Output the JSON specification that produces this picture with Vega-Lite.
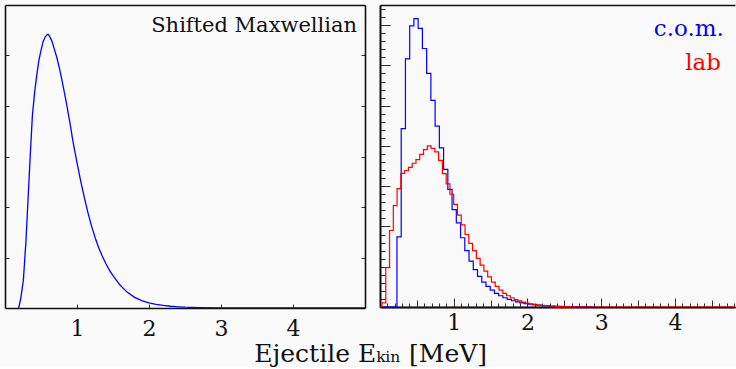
{
  "$schema": "https://vega.github.io/schema/vega-lite/v6.json",
  "background": "#fafafa",
  "padding": {"left": 4, "top": 5, "right": 0, "bottom": 0},
  "datasets": {
    "maxw": [
      {"E": 0.19, "f": 0}, {"E": 0.22, "f": 0.2}, {"E": 0.255, "f": 0.55}, {"E": 0.29, "f": 1.3},
      {"E": 0.32, "f": 2.15}, {"E": 0.35, "f": 3.0}, {"E": 0.38, "f": 3.8}, {"E": 0.41, "f": 4.25},
      {"E": 0.44, "f": 4.6}, {"E": 0.47, "f": 4.9}, {"E": 0.5, "f": 5.1}, {"E": 0.53, "f": 5.28},
      {"E": 0.56, "f": 5.37}, {"E": 0.59, "f": 5.42}, {"E": 0.6, "f": 5.42}, {"E": 0.62, "f": 5.38},
      {"E": 0.65, "f": 5.29}, {"E": 0.68, "f": 5.15}, {"E": 0.72, "f": 4.96}, {"E": 0.76, "f": 4.72},
      {"E": 0.8, "f": 4.45}, {"E": 0.85, "f": 4.08}, {"E": 0.9, "f": 3.68}, {"E": 0.95, "f": 3.25},
      {"E": 1.0, "f": 2.88}, {"E": 1.05, "f": 2.52}, {"E": 1.1, "f": 2.2}, {"E": 1.15, "f": 1.9},
      {"E": 1.2, "f": 1.63}, {"E": 1.25, "f": 1.4}, {"E": 1.3, "f": 1.2}, {"E": 1.35, "f": 1.03},
      {"E": 1.4, "f": 0.88}, {"E": 1.45, "f": 0.75}, {"E": 1.5, "f": 0.64}, {"E": 1.6, "f": 0.45},
      {"E": 1.7, "f": 0.31}, {"E": 1.8, "f": 0.21}, {"E": 1.9, "f": 0.145}, {"E": 2.0, "f": 0.1},
      {"E": 2.1, "f": 0.07}, {"E": 2.2, "f": 0.05}, {"E": 2.3, "f": 0.035}, {"E": 2.4, "f": 0.024},
      {"E": 2.5, "f": 0.016}, {"E": 2.7, "f": 0.007}, {"E": 3.0, "f": 0.002}, {"E": 3.5, "f": 0},
      {"E": 4.0, "f": 0}, {"E": 4.5, "f": 0}, {"E": 5.0, "f": 0}
    ],
    "com": [
      {"lo": 0, "count": 0}, {"lo": 0.0575, "count": 0}, {"lo": 0.115, "count": 0}, {"lo": 0.1725, "count": 0},
      {"lo": 0.23, "count": 1.74}, {"lo": 0.2875, "count": 4.43}, {"lo": 0.345, "count": 6.16}, {"lo": 0.4025, "count": 6.98},
      {"lo": 0.46, "count": 7.16}, {"lo": 0.5175, "count": 6.92}, {"lo": 0.575, "count": 6.42}, {"lo": 0.6325, "count": 5.8},
      {"lo": 0.69, "count": 5.13}, {"lo": 0.7475, "count": 4.49}, {"lo": 0.805, "count": 3.95}, {"lo": 0.8625, "count": 3.42},
      {"lo": 0.92, "count": 2.92}, {"lo": 0.9775, "count": 2.42}, {"lo": 1.035, "count": 2.09}, {"lo": 1.0925, "count": 1.72},
      {"lo": 1.15, "count": 1.4}, {"lo": 1.2075, "count": 1.14}, {"lo": 1.265, "count": 0.93}, {"lo": 1.3225, "count": 0.76},
      {"lo": 1.38, "count": 0.62}, {"lo": 1.4375, "count": 0.51}, {"lo": 1.495, "count": 0.42}, {"lo": 1.5525, "count": 0.34},
      {"lo": 1.61, "count": 0.28}, {"lo": 1.6675, "count": 0.23}, {"lo": 1.725, "count": 0.19}, {"lo": 1.7825, "count": 0.155},
      {"lo": 1.84, "count": 0.126}, {"lo": 1.8975, "count": 0.103}, {"lo": 1.955, "count": 0.084}, {"lo": 2.0125, "count": 0.068},
      {"lo": 2.07, "count": 0.055}, {"lo": 2.1275, "count": 0.045}, {"lo": 2.185, "count": 0.036}, {"lo": 2.2425, "count": 0.029},
      {"lo": 2.3, "count": 0.023}, {"lo": 2.3575, "count": 0.018}, {"lo": 2.415, "count": 0.014}, {"lo": 2.4725, "count": 0.011},
      {"lo": 2.53, "count": 0.008}, {"lo": 2.5875, "count": 0.006}, {"lo": 2.645, "count": 0.004}, {"lo": 2.7025, "count": 0.003},
      {"lo": 2.76, "count": 0.002}, {"lo": 2.8175, "count": 0.001}, {"lo": 2.875, "count": 0}
    ],
    "lab": [
      {"lo": 0, "count": 0}, {"lo": 0.027, "count": 0.1}, {"lo": 0.0782, "count": 0.975}, {"lo": 0.1294, "count": 1.9},
      {"lo": 0.1806, "count": 2.52}, {"lo": 0.2318, "count": 2.94}, {"lo": 0.283, "count": 3.32}, {"lo": 0.3342, "count": 3.39},
      {"lo": 0.3854, "count": 3.47}, {"lo": 0.4366, "count": 3.57}, {"lo": 0.4878, "count": 3.66}, {"lo": 0.539, "count": 3.79},
      {"lo": 0.5902, "count": 3.91}, {"lo": 0.6414, "count": 4.0}, {"lo": 0.6926, "count": 3.94}, {"lo": 0.7438, "count": 3.85},
      {"lo": 0.795, "count": 3.64}, {"lo": 0.8462, "count": 3.31}, {"lo": 0.8974, "count": 3.06}, {"lo": 0.9486, "count": 2.8},
      {"lo": 0.9998, "count": 2.55}, {"lo": 1.051, "count": 2.28}, {"lo": 1.1022, "count": 2.04}, {"lo": 1.1534, "count": 1.8},
      {"lo": 1.2046, "count": 1.58}, {"lo": 1.2558, "count": 1.4}, {"lo": 1.307, "count": 1.21}, {"lo": 1.3582, "count": 1.04},
      {"lo": 1.4094, "count": 0.89}, {"lo": 1.4606, "count": 0.75}, {"lo": 1.5118, "count": 0.62}, {"lo": 1.563, "count": 0.51},
      {"lo": 1.6142, "count": 0.42}, {"lo": 1.6654, "count": 0.34}, {"lo": 1.7166, "count": 0.28}, {"lo": 1.7678, "count": 0.23},
      {"lo": 1.819, "count": 0.185}, {"lo": 1.8702, "count": 0.15}, {"lo": 1.9214, "count": 0.12}, {"lo": 1.9726, "count": 0.097},
      {"lo": 2.0238, "count": 0.078}, {"lo": 2.075, "count": 0.063}, {"lo": 2.1262, "count": 0.05}, {"lo": 2.1774, "count": 0.04},
      {"lo": 2.2286, "count": 0.032}, {"lo": 2.2798, "count": 0.025}, {"lo": 2.331, "count": 0.02}, {"lo": 2.3822, "count": 0.016},
      {"lo": 2.4334, "count": 0.012}, {"lo": 2.4846, "count": 0.009}, {"lo": 2.5358, "count": 0.007}, {"lo": 2.587, "count": 0.005},
      {"lo": 2.6382, "count": 0.004}, {"lo": 2.6894, "count": 0.003}, {"lo": 2.7406, "count": 0.002}, {"lo": 2.7918, "count": 0.001},
      {"lo": 2.843, "count": 0}, {"lo": 2.8942, "count": 0}, {"lo": 2.9454, "count": 0}, {"lo": 2.9966, "count": 0},
      {"lo": 3.0478, "count": 0}, {"lo": 3.099, "count": 0}, {"lo": 3.1502, "count": 0}, {"lo": 3.2014, "count": 0},
      {"lo": 3.2526, "count": 0}, {"lo": 3.3038, "count": 0}, {"lo": 3.355, "count": 0}, {"lo": 3.4062, "count": 0},
      {"lo": 3.4574, "count": 0}, {"lo": 3.5086, "count": 0}, {"lo": 3.5598, "count": 0}, {"lo": 3.611, "count": 0},
      {"lo": 3.6622, "count": 0}, {"lo": 3.7134, "count": 0}, {"lo": 3.7646, "count": 0}, {"lo": 3.8158, "count": 0},
      {"lo": 3.867, "count": 0}, {"lo": 3.9182, "count": 0}, {"lo": 3.9694, "count": 0}, {"lo": 4.0206, "count": 0},
      {"lo": 4.0718, "count": 0}, {"lo": 4.123, "count": 0}, {"lo": 4.1742, "count": 0}, {"lo": 4.2254, "count": 0},
      {"lo": 4.2766, "count": 0}, {"lo": 4.3278, "count": 0}, {"lo": 4.379, "count": 0}, {"lo": 4.4302, "count": 0},
      {"lo": 4.4814, "count": 0}, {"lo": 4.5326, "count": 0}, {"lo": 4.5838, "count": 0}, {"lo": 4.635, "count": 0},
      {"lo": 4.6862, "count": 0}, {"lo": 4.7374, "count": 0}, {"lo": 4.7886, "count": 0}, {"lo": 4.8398, "count": 0}
    ]
  },
  "title": {"text": "Ejectile Eₖᵢₙ [MeV]", "orient": "bottom", "anchor": "middle", "font": "DejaVu Serif", "fontSize": 25, "fontWeight": "normal", "color": "#111", "offset": 3},
  "spacing": 13,
  "hconcat": [
    {
      "width": 360,
      "height": 303,
      "layer": [
        {
          "data": {"name": "maxw"},
          "mark": {"type": "line", "color": "#0000ff", "strokeWidth": 1.3, "clip": true},
          "encoding": {
            "x": {"field": "E", "type": "quantitative", "scale": {"domain": [0, 5], "nice": false, "zero": false},
                  "axis": {"orient": "bottom", "title": null, "values": [1, 2, 3, 4], "tickSize": -4, "labelPadding": 14}},
            "y": {"field": "f", "type": "quantitative", "scale": {"domain": [0, 6], "nice": false},
                  "axis": {"orient": "left", "title": null, "values": [1, 2, 3, 4, 5], "tickSize": -4, "labels": false}}
          }
        },
        {
          "data": {"name": "maxw"},
          "mark": {"type": "line", "strokeOpacity": 0},
          "encoding": {
            "x": {"field": "E", "type": "quantitative", "scale": {"domain": [0, 5], "nice": false, "zero": false},
                  "axis": {"orient": "top", "title": null, "ticks": false, "labels": false}},
            "y": {"field": "f", "type": "quantitative", "scale": {"domain": [0, 6], "nice": false},
                  "axis": {"orient": "right", "title": null, "values": [1, 2, 3, 4, 5], "tickSize": -4, "labels": false}}
          }
        },
        {
          "data": {"values": [{"label": "Shifted Maxwellian"}]},
          "mark": {"type": "text", "align": "right", "baseline": "middle", "font": "DejaVu Serif", "fontSize": 21, "color": "#111"},
          "encoding": {
            "x": {"datum": 4.89, "type": "quantitative", "scale": {"domain": [0, 5], "nice": false, "zero": false}, "axis": null},
            "y": {"datum": 5.58, "type": "quantitative", "scale": {"domain": [0, 6], "nice": false}, "axis": null},
            "text": {"field": "label"}
          }
        }
      ],
      "resolve": {"axis": {"x": "independent", "y": "independent"}}
    },
    {
      "width": 355,
      "height": 302,
      "layer": [
        {
          "data": {"name": "com"},
          "mark": {"type": "line", "color": "#0000ff", "strokeWidth": 1.2, "interpolate": "step-after", "clip": true},
          "encoding": {
            "x": {"field": "lo", "type": "quantitative", "scale": {"domain": [0, 4.815], "nice": false, "zero": false},
                  "axis": {"orient": "bottom", "title": null, "values": [1, 2, 3, 4], "tickSize": -9, "labelPadding": 14}},
            "y": {"field": "count", "type": "quantitative", "scale": {"domain": [0, 7.5], "nice": false},
                  "axis": {"orient": "left", "title": null, "values": [1, 2, 3, 4, 5, 6, 7], "tickSize": -10, "labels": false}}
          }
        },
        {
          "data": {"name": "lab"},
          "mark": {"type": "line", "color": "#ff0000", "strokeWidth": 1.2, "interpolate": "step-after", "clip": true},
          "encoding": {
            "x": {"field": "lo", "type": "quantitative", "scale": {"domain": [0, 4.815], "nice": false, "zero": false},
                  "axis": {"orient": "bottom", "title": null, "labels": false,
                           "values": [0.1,0.2,0.3,0.4,0.6,0.7,0.8,0.9,1.1,1.2,1.3,1.4,1.6,1.7,1.8,1.9,2.1,2.2,2.3,2.4,2.6,2.7,2.8,2.9,3.1,3.2,3.3,3.4,3.6,3.7,3.8,3.9,4.1,4.2,4.3,4.4,4.6,4.7,4.8],
                           "tickSize": -4}},
            "y": {"field": "count", "type": "quantitative", "scale": {"domain": [0, 7.5], "nice": false},
                  "axis": {"orient": "left", "title": null, "labels": false,
                           "values": [0.2,0.4,0.6,0.8,1.2,1.4,1.6,1.8,2.2,2.4,2.6,2.8,3.2,3.4,3.6,3.8,4.2,4.4,4.6,4.8,5.2,5.4,5.6,5.8,6.2,6.4,6.6,6.8,7.2,7.4],
                           "tickSize": -5}}
          }
        },
        {
          "data": {"name": "lab"},
          "mark": {"type": "line", "strokeOpacity": 0},
          "encoding": {
            "x": {"field": "lo", "type": "quantitative", "scale": {"domain": [0, 4.815], "nice": false, "zero": false},
                  "axis": {"orient": "bottom", "title": null, "labels": false, "values": [0.5, 1.5, 2.5, 3.5, 4.5], "tickSize": -7}},
            "y": {"field": "count", "type": "quantitative", "scale": {"domain": [0, 7.5], "nice": false}, "axis": null}
          }
        },
        {
          "data": {"name": "lab"},
          "mark": {"type": "line", "strokeOpacity": 0},
          "encoding": {
            "x": {"field": "lo", "type": "quantitative", "scale": {"domain": [0, 4.815], "nice": false, "zero": false},
                  "axis": {"orient": "top", "title": null, "labels": false, "ticks": false}},
            "y": {"field": "count", "type": "quantitative", "scale": {"domain": [0, 7.5], "nice": false}, "axis": null}
          }
        },
        {
          "data": {"values": [{"label": "c.o.m."}]},
          "mark": {"type": "text", "align": "right", "baseline": "middle", "font": "DejaVu Serif", "fontSize": 23, "color": "#0000ff"},
          "encoding": {
            "x": {"datum": 4.665, "type": "quantitative", "scale": {"domain": [0, 4.815], "nice": false, "zero": false}, "axis": null},
            "y": {"datum": 6.9, "type": "quantitative", "scale": {"domain": [0, 7.5], "nice": false}, "axis": null},
            "text": {"field": "label"}
          }
        },
        {
          "data": {"values": [{"label": "lab"}]},
          "mark": {"type": "text", "align": "right", "baseline": "middle", "font": "DejaVu Serif", "fontSize": 23, "color": "#ff0000"},
          "encoding": {
            "x": {"datum": 4.625, "type": "quantitative", "scale": {"domain": [0, 4.815], "nice": false, "zero": false}, "axis": null},
            "y": {"datum": 6.05, "type": "quantitative", "scale": {"domain": [0, 7.5], "nice": false}, "axis": null},
            "text": {"field": "label"}
          }
        }
      ],
      "resolve": {"axis": {"x": "independent", "y": "independent"}}
    }
  ],
  "config": {
    "view": {"stroke": null},
    "axis": {
      "grid": false,
      "domainColor": "#111",
      "domainWidth": 1.6,
      "tickColor": "#333",
      "tickWidth": 1,
      "labelFont": "DejaVu Serif",
      "labelFontSize": 22,
      "labelColor": "#111",
      "labelFlush": false,
      "labelOverlap": false
    }
  }
}
